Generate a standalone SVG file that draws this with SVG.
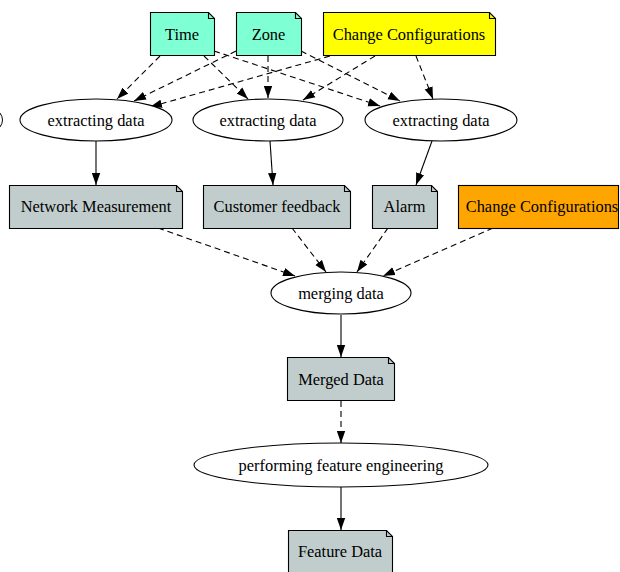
<svg xmlns="http://www.w3.org/2000/svg" width="620" height="572" viewBox="0 0 620 572">
  <style>
    text { font-family: "Liberation Serif", "Times New Roman", serif; font-size: 16.4px; fill: #000; text-anchor: middle; }
    .note { stroke: #000; stroke-width: 1.1; }
    .fold { fill: none; stroke: #000; stroke-width: 1.1; }
    .aqua { fill: #7fffd4; }
    .yellow { fill: #ffff00; }
    .orange { fill: #ffa500; }
    .gray { fill: #c1cdcd; }
    .proc { fill: #fff; stroke: #000; stroke-width: 1.1; }
    .edge { fill: none; stroke: #000; stroke-width: 1.1; marker-end: url(#arrow); }
    .dash { stroke-dasharray: 6 4; }
  </style>
  <defs>
    <marker id="arrow" markerUnits="userSpaceOnUse" markerWidth="12" markerHeight="9" refX="12" refY="4.5" orient="auto">
      <path d="M0,0.3 L12,4.5 L0,8.7 Z" fill="#000"/>
    </marker>
  </defs>
  <rect width="620" height="572" fill="#fff"/>

  <!-- partial node at the left border -->
  <path d="M0,113 Q5,120 0,127" fill="none" stroke="#000"/>

  <g id="edges">
    <path class="edge dash" d="M160,56 L117,99"/>
    <path class="edge dash" d="M236,51 L134,101"/>
    <path class="edge dash" d="M330,56 L150,107"/>
    <path class="edge dash" d="M204,56 L248,99"/>
    <path class="edge dash" d="M268,56 L268,98"/>
    <path class="edge dash" d="M375,56 L303,100"/>
    <path class="edge dash" d="M214,51 L380,106"/>
    <path class="edge dash" d="M301,51 L400,101"/>
    <path class="edge dash" d="M416,56 L433,99"/>
    <path class="edge" d="M96,141 L96,185"/>
    <path class="edge" d="M270,141 L273,185"/>
    <path class="edge" d="M432,141 L416,185"/>
    <path class="edge dash" d="M158,228 L295,276"/>
    <path class="edge dash" d="M292,228 L326,272"/>
    <path class="edge dash" d="M388,228 L357,272"/>
    <path class="edge dash" d="M493,228 L383,276"/>
    <path class="edge" d="M341,315 L341,357"/>
    <path class="edge dash" d="M341,401 L341,443"/>
    <path class="edge" d="M341,487 L341,530"/>
  </g>

  <g id="time">
    <path class="note aqua" d="M150.5,12.5 H208.5 L214.5,18.5 V55.5 H150.5 Z"/>
    <path class="fold" d="M208.5,12.5 V18.5 H214.5"/>
    <text x="182" y="39.5">Time</text>
  </g>
  <g id="zone">
    <path class="note aqua" d="M236.5,12.5 H295.5 L301.5,18.5 V55.5 H236.5 Z"/>
    <path class="fold" d="M295.5,12.5 V18.5 H301.5"/>
    <text x="268.5" y="39.5">Zone</text>
  </g>
  <g id="change_config_top">
    <path class="note yellow" d="M323.5,12.5 H489.5 L495.5,18.5 V55.5 H323.5 Z"/>
    <path class="fold" d="M489.5,12.5 V18.5 H495.5"/>
    <text x="409" y="39.5">Change Configurations</text>
  </g>

  <g id="extract_1">
    <ellipse class="proc" cx="96" cy="120" rx="76" ry="21"/>
    <text x="96" y="125.5">extracting data</text>
  </g>
  <g id="extract_2">
    <ellipse class="proc" cx="268" cy="120" rx="75" ry="21"/>
    <text x="268" y="125.5">extracting data</text>
  </g>
  <g id="extract_3">
    <ellipse class="proc" cx="441" cy="120" rx="76" ry="21"/>
    <text x="441" y="125.5">extracting data</text>
  </g>

  <g id="network_measurement">
    <path class="note gray" d="M9.5,185.5 H176.5 L182.5,191.5 V228.5 H9.5 Z"/>
    <path class="fold" d="M176.5,185.5 V191.5 H182.5"/>
    <text x="96" y="212">Network Measurement</text>
  </g>
  <g id="customer_feedback">
    <path class="note gray" d="M203.5,185.5 H344.5 L350.5,191.5 V228.5 H203.5 Z"/>
    <path class="fold" d="M344.5,185.5 V191.5 H350.5"/>
    <text x="277" y="212">Customer feedback</text>
  </g>
  <g id="alarm">
    <path class="note gray" d="M372.5,185.5 H431.5 L437.5,191.5 V228.5 H372.5 Z"/>
    <path class="fold" d="M431.5,185.5 V191.5 H437.5"/>
    <text x="404.5" y="212">Alarm</text>
  </g>
  <g id="change_config_mid">
    <rect class="note orange" x="458.5" y="185.5" width="160" height="43"/>
    <text x="542" y="212">Change Configurations</text>
  </g>

  <g id="merging">
    <ellipse class="proc" cx="341" cy="293" rx="70" ry="21"/>
    <text x="341" y="298.5">merging data</text>
  </g>
  <g id="merged_data">
    <path class="note gray" d="M287.5,357.5 H388.5 L394.5,363.5 V400.5 H287.5 Z"/>
    <path class="fold" d="M388.5,357.5 V363.5 H394.5"/>
    <text x="341" y="384.5">Merged Data</text>
  </g>
  <g id="feature_engineering">
    <ellipse class="proc" cx="341" cy="465" rx="147" ry="22"/>
    <text x="341" y="470.5">performing feature engineering</text>
  </g>
  <g id="feature_data">
    <path class="note gray" d="M288.5,530.5 H386.5 L392.5,536.5 V575 H288.5 Z"/>
    <path class="fold" d="M386.5,530.5 V536.5 H392.5"/>
    <text x="340" y="556.5">Feature Data</text>
  </g>
</svg>
